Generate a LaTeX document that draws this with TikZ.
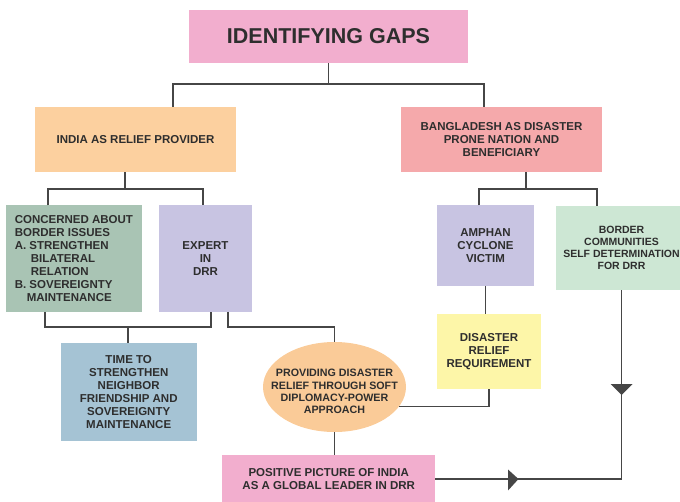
\documentclass[tikz,border=0pt]{standalone}
\usepackage{fontspec}
\setmainfont{Liberation Sans}
\usetikzlibrary{shapes.geometric}
\definecolor{lc}{HTML}{464646}
\definecolor{txt}{HTML}{2E2E2E}
\definecolor{cpink}{HTML}{F2AECE}
\definecolor{cpeach}{HTML}{FCD09F}
\definecolor{crose}{HTML}{F5A9AB}
\definecolor{csage}{HTML}{A9C4B4}
\definecolor{clav}{HTML}{C8C4E2}
\definecolor{cblue}{HTML}{A5C3D4}
\definecolor{cyel}{HTML}{FDF6A8}
\definecolor{cgreen}{HTML}{CDE7D4}
\definecolor{corange}{HTML}{FACB98}
\tikzset{
  box/.style={draw=none, inner sep=0pt, outer sep=0pt, text=txt, align=center,
    font=\bfseries\fontsize{11.5}{13}\selectfont},
  conn/.style={draw=lc, line width=1.6pt},
}
\begin{document}
\begin{tikzpicture}[x=1pt, y=-1pt]
\useasboundingbox (0,0) rectangle (680,501);
% nodes
\node[box, fill=cpink, minimum width=279pt, minimum height=53pt,
  font=\bfseries\fontsize{21.5}{24}\selectfont] (title) at (328.5,36.5) {IDENTIFYING GAPS};
\node[box, fill=cpeach, minimum width=201pt, minimum height=65pt] (india) at (135.5,139.5) {INDIA AS RELIEF PROVIDER};
\node[box, fill=crose, minimum width=201pt, minimum height=65pt] (bang) at (501.5,139.5) {BANGLADESH AS DISASTER\\PRONE NATION AND\\BENEFICIARY};
\node[box, fill=csage, minimum width=135.7pt, minimum height=106.5pt, align=left] (concern) at (73.9,258.7)
  {CONCERNED ABOUT\\BORDER ISSUES\\A. STRENGTHEN\\\hspace*{16pt}BILATERAL\\\hspace*{16pt}RELATION\\B. SOVEREIGNTY\\\hspace*{12pt}MAINTENANCE};
\node[box, fill=clav, minimum width=93.6pt, minimum height=106.5pt] (expert) at (205.5,258.7) {EXPERT\\IN\\DRR};
\node[box, fill=clav, minimum width=97pt, minimum height=80.5pt] (amphan) at (485.5,245.7) {AMPHAN\\CYCLONE\\VICTIM};
\node[box, fill=cgreen, minimum width=131pt, minimum height=84pt,
  font=\bfseries\fontsize{10.5}{12}\selectfont] (border) at (621.5,248) {BORDER\\COMMUNITIES\\SELF DETERMINATION\\FOR DRR};
\node[box, fill=cblue, minimum width=136pt, minimum height=98pt] (time) at (128.7,392) {TIME TO\\STRENGTHEN\\NEIGHBOR\\FRIENDSHIP AND\\SOVEREIGNTY\\MAINTENANCE};
\node[box, fill=cyel, minimum width=104pt, minimum height=75pt] (relief) at (489,351.5) {DISASTER\\RELIEF\\REQUIREMENT};
\node[box, ellipse, fill=corange, minimum width=143pt, minimum height=90pt] (ell) at (334.5,387) {};
\node[box, font=\bfseries\fontsize{10.7}{12.2}\selectfont] (elltext) at (334.5,391.5) {PROVIDING DISASTER\\RELIEF THROUGH SOFT\\DIPLOMACY-POWER\\APPROACH};
\node[box, fill=cpink, minimum width=213.5pt, minimum height=48pt] (positive) at (328.7,479) {POSITIVE PICTURE OF INDIA\\AS A GLOBAL LEADER IN DRR};
% connectors
\coordinate (j1) at (328.5,84);
\draw[conn] (title.south) -- (j1);
\draw[conn] ([xshift=37.5pt]india.north) |- (j1) -| ([xshift=-17.5pt]bang.north);
\coordinate (j2) at (125,189);
\draw[conn] ([xshift=-10.5pt]india.south) -- (j2);
\draw[conn] ([xshift=-25.9pt]concern.north) |- (j2) -| ([xshift=-2.5pt]expert.north);
\coordinate (j3) at (526,189);
\draw[conn] ([xshift=24.5pt]bang.south) -- (j3);
\draw[conn] ([xshift=-6.5pt]amphan.north) |- (j3) -| ([xshift=-24.5pt]border.north);
\coordinate (j4) at (128,327);
\draw[conn] ([xshift=-28.9pt]concern.south) |- (j4) -| ([xshift=5.2pt]expert.south);
\draw[conn] (j4) -- (time.north -| j4);
\coordinate (j5) at (334.5,327);
\draw[conn] ([xshift=22.5pt]expert.south) |- (j5) -- (ell.north);
\draw[conn] (amphan.south) -- (amphan.south |- relief.north);
\draw[conn] (relief.south) |- (ell.-17);
\draw[conn] (ell.south) -- (ell.south |- positive.north);
\draw[conn] (border.south) |- (positive.east);
% arrowheads
\fill[lc] (610.5,384) -- (632.5,384) -- (621.5,395) -- cycle;
\fill[lc] (508,469.5) -- (508,490.5) -- (518.5,479) -- cycle;
\end{tikzpicture}
\end{document}
